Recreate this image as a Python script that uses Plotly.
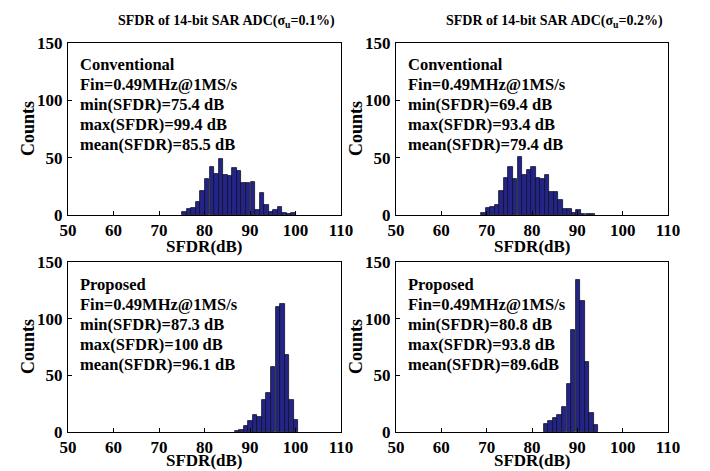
import plotly.graph_objects as go

# ---------------- data ----------------
# bin centres (dB) and counts
tl_centers = [75.6, 76.6, 77.6, 78.6, 79.6, 80.6, 81.6, 82.6, 83.6, 84.6, 85.6, 86.6, 87.6,
              88.6, 89.6, 90.6, 91.6, 92.6, 93.6, 94.6, 95.6, 96.6, 97.6, 98.6, 99.6]
tl_counts = [3, 5, 6, 11, 21, 31, 42, 36, 49, 35, 34, 41, 38, 28, 28, 29, 4, 19, 9, 3, 4, 7, 2, 1, 2]

tr_centers = [69.3, 70.3, 71.3, 72.3, 73.3, 74.3, 75.3, 76.3, 77.3, 78.3, 79.3, 80.3, 81.3,
              82.3, 83.3, 84.3, 85.3, 86.3, 87.3, 88.3, 89.3, 90.3, 91.3, 92.3, 93.3]
tr_counts = [2, 6, 7, 9, 21, 32, 42, 31, 51, 35, 39, 42, 32, 31, 35, 20, 20, 13, 5, 5, 2, 4, 1, 1, 1]

bl_centers = [87.1, 88.1, 89.1, 90.1, 91.1, 92.1, 93.1, 94.1, 95.1, 96.1, 97.1, 98.1, 99.1, 100.1]
bl_counts = [1, 2, 5, 10, 15, 13, 28, 34, 57, 110, 113, 68, 28, 11]

br_centers = [83.1, 84.1, 85.1, 86.1, 87.1, 88.1, 89.1, 90.1, 91.1, 92.1, 93.1, 94.1]
br_counts = [7, 10, 12, 15, 22, 42, 90, 134, 116, 62, 17, 6]

x_ticks = [50, 60, 70, 80, 90, 100, 110]
y_ticks = [0, 50, 100, 150]

titles = ["SFDR of 14-bit SAR ADC(σ<sub>u</sub>=0.1%)", "SFDR of 14-bit SAR ADC(σ<sub>u</sub>=0.2%)"]
tl_text = ["Conventional", "Fin=0.49MHz@1MS/s", "min(SFDR)=75.4 dB", "max(SFDR)=99.4 dB", "mean(SFDR)=85.5 dB"]
tr_text = ["Conventional", "Fin=0.49MHz@1MS/s", "min(SFDR)=69.4 dB", "max(SFDR)=93.4 dB", "mean(SFDR)=79.4 dB"]
bl_text = ["Proposed", "Fin=0.49MHz@1MS/s", "min(SFDR)=87.3 dB", "max(SFDR)=100 dB", "mean(SFDR)=96.1 dB"]
br_text = ["Proposed", "Fin=0.49MHz@1MS/s", "min(SFDR)=80.8 dB", "max(SFDR)=93.8 dB", "mean(SFDR)=89.6dB"]

# ---------------- layout ----------------
W, H = 710, 471          # window size
OFFX, OFFY = 8, 0        # page offset of the plot
FW, FH = W - 2 * OFFX, H - OFFY
FONT = "Liberation Serif"
BAR = "rgb(36,36,135)"

cols = [(68, 341), (396, 668)]      # window pixel x extents of plot areas
rows = [(35, 207), (254, 424)]      # window pixel y extents (top, bottom)
xtitle_gap = [31, 28]               # distance of "SFDR(dB)" below each row

def px2x(p):
    return (p - OFFX) / FW

def px2y(p):
    return 1 - (p - OFFY) / FH

def bold(s):
    return "<b>" + s + "</b>"

fig = go.Figure()
panels = [
    (0, 0, tl_centers, tl_counts, tl_text),
    (0, 1, tr_centers, tr_counts, tr_text),
    (1, 0, bl_centers, bl_counts, bl_text),
    (1, 1, br_centers, br_counts, br_text),
]

annotations = []
for i, (r, c, xs, ys, txt) in enumerate(panels):
    k = "" if i == 0 else str(i + 1)
    fig.add_trace(go.Bar(
        x=xs, y=ys, width=0.98,
        marker=dict(color=BAR, line=dict(color="rgb(15,15,40)", width=0.8)),
        xaxis="x" + k, yaxis="y" + k, showlegend=False,
    ))
    x0, x1 = cols[c]
    y0, y1 = rows[r]
    axis_common = dict(
        showline=True, mirror=True, linecolor="black", linewidth=1, automargin=False,
        ticks="inside", ticklen=4, tickcolor="black", showgrid=False, zeroline=False,
        tickfont=dict(family=FONT, size=17, color="black"),
    )
    fig.update_layout(**{
        "xaxis" + k: dict(domain=[px2x(x0), px2x(x1)], range=[50, 110], tickvals=x_ticks,
                          ticktext=[bold(str(v)) for v in x_ticks],
                          anchor="y" + k, ticklabelstandoff=0, **axis_common),
        "yaxis" + k: dict(domain=[px2y(y1), px2y(y0)], range=[0, 150], tickvals=y_ticks,
                          ticktext=[bold(str(v)) for v in y_ticks],
                          anchor="x" + k, ticklabelstandoff=1, **axis_common),
    })
    # text block
    for j, line in enumerate(txt):
        annotations.append(dict(
            x=px2x(x0 + 10), y=px2y(y0 + 22 + 20 * j), xref="paper", yref="paper",
            xanchor="left", yanchor="middle", showarrow=False, text=bold(line),
            font=dict(family=FONT, size=16.5, color="black"),
        ))
    # x axis title
    annotations.append(dict(
        x=px2x((x0 + x1) / 2), y=px2y(y1 + xtitle_gap[r]), xref="paper", yref="paper",
        xanchor="center", yanchor="middle", showarrow=False, text=bold("SFDR(dB)"),
        font=dict(family=FONT, size=17, color="black"), borderpad=0,
    ))
    # y axis title
    annotations.append(dict(
        x=px2x(x0 - 40), y=px2y((y0 + y1) / 2), xref="paper", yref="paper",
        xanchor="center", yanchor="middle", showarrow=False, text=bold("Counts"), textangle=-90,
        font=dict(family=FONT, size=18, color="black"),
    ))

for c in range(2):
    x0, x1 = cols[c]
    annotations.append(dict(
        x=px2x((x0 + x1) / 2 + 22), y=px2y(14), xref="paper", yref="paper",
        xanchor="center", yanchor="middle", showarrow=False, text=bold(titles[c]),
        font=dict(family=FONT, size=14, color="black"),
    ))

fig.update_layout(
    width=FW, height=FH, margin=dict(l=0, r=0, t=0, b=0),
    paper_bgcolor="white", plot_bgcolor="white",
    annotations=annotations, bargap=0,
)

fig.write_html("out.html")
